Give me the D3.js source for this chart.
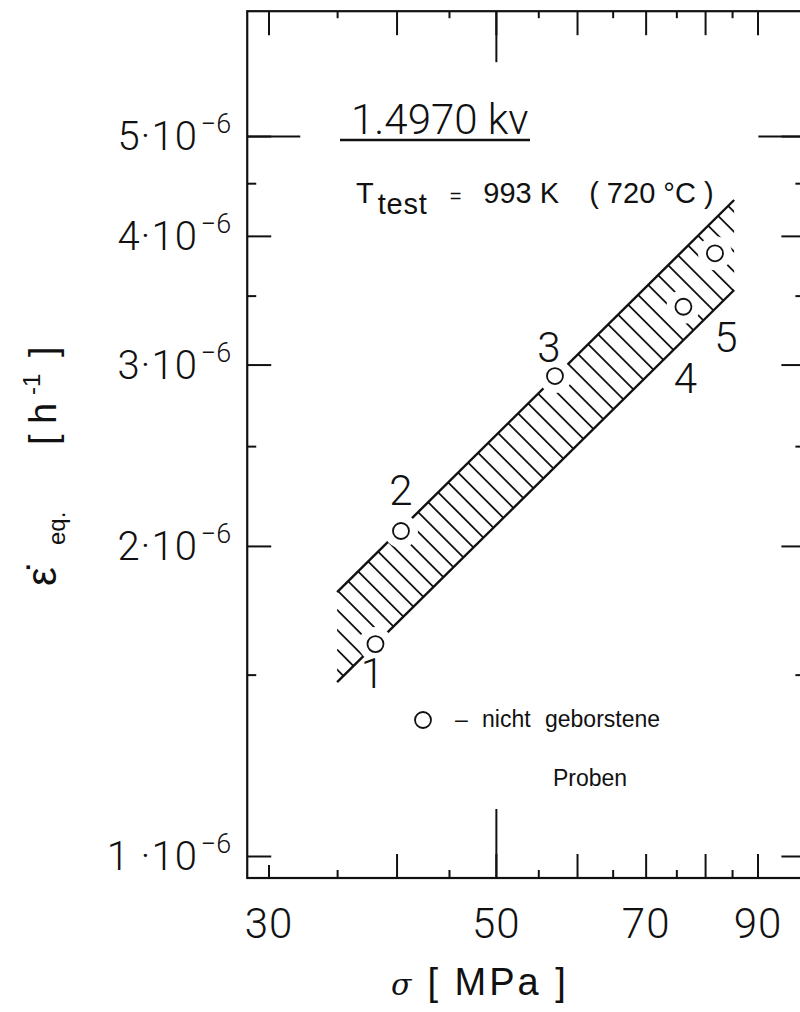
<!DOCTYPE html>
<html>
<head>
<meta charset="utf-8">
<script src="https://cdn.jsdelivr.net/npm/d3@7"></script>
<style>
    body { margin: 0; background: #fff; }
    svg { display: block; }
</style>
</head>
<body>
<div id="chart"></div>
<script>
// ---- data ----
const xTicksMajor = [40, 50, 60, 70, 80, 90];
const xTicksMinor = [35, 45, 55, 65, 75, 85];
const xTickFirst = [30];
const xTickLabels = [30, 50, 70, 90];
const xTickLong = [50];

const yTicksMajor = [1e-6, 2e-6, 3e-6, 4e-6, 5e-6];
const yTicksMinor = [1.5e-6, 2.5e-6, 3.5e-6, 4.5e-6];
const yTickLong = [5e-6];
const yTickMantissa = ["1 ·10", "2·10", "3·10", "4·10", "5·10"];
const yTickExponent = "\u22126";

// frame extent (MPa, 1/h)
const xFrame = [28.6, 100];
const yFrame = [0.952e-6, 6.61e-6];

// specimens (not ruptured)
const specimen = ["1", "2", "3", "4", "5"];
const sigma = [38.15, 40.4, 57.1, 76.2, 81.8];
const epsRate = [1.606e-6, 2.068e-6, 2.924e-6, 3.414e-6, 3.847e-6];

// scatter band, straight in log-log
const bandSigma = [35.0, 85.4];
const bandUpper = [1.804e-6, 4.334e-6];
const bandLower = [1.475e-6, 3.544e-6];

// ---- layout ----
const W = 800, H = 1012;
const ink = "#111";
const fontDigits = "Roboto, 'DejaVu Sans Condensed', sans-serif";
const fontText = "'Liberation Sans', 'DejaVu Sans', sans-serif";
const labelOffset = [[-3, 44], [0, -26], [-6, -14], [2, 86], [11, 99]];

const svg = d3.select("#chart").append("svg")
    .attr("width", W)
    .attr("height", H);

const x = d3.scaleLog().domain([30, 90]).range([268.5, 757.5]);
const y = d3.scaleLog().domain([1e-6, 1e-5]).range([856, -174]);

const fLeft = x(xFrame[0]), fRight = x(xFrame[1]);
const fTop = y(yFrame[1]), fBottom = y(yFrame[0]);

// frame
svg.append("rect")
    .attr("x", fLeft).attr("y", fTop)
    .attr("width", fRight - fLeft).attr("height", fBottom - fTop)
    .attr("fill", "none")
    .attr("stroke", ink)
    .attr("stroke-width", 2.2);

// inward ticks on all four sides
function tickRow(axis, transform, values, len) {
    svg.append("g")
        .attr("transform", transform)
        .attr("color", ink)
        .call(axis.tickValues(values).tickSizeInner(-len).tickSizeOuter(0).tickFormat(""))
        .call(g => g.select(".domain").remove())
        .call(g => g.selectAll("line").attr("stroke-width", 2));
}

tickRow(d3.axisBottom(x), `translate(0,${fBottom})`, xTicksMajor, 24);
tickRow(d3.axisBottom(x), `translate(0,${fBottom})`, xTickFirst, 13);
tickRow(d3.axisBottom(x), `translate(0,${fBottom})`, xTicksMinor, 8);
tickRow(d3.axisBottom(x), `translate(0,${fBottom})`, xTickLong, 69);
tickRow(d3.axisTop(x), `translate(0,${fTop})`, xTicksMajor.concat(xTickFirst), 24);
tickRow(d3.axisTop(x), `translate(0,${fTop})`, xTicksMinor, 7);
tickRow(d3.axisTop(x), `translate(0,${fTop})`, xTickLong, 51);
tickRow(d3.axisLeft(y), `translate(${fLeft},0)`, yTicksMajor, 24);
tickRow(d3.axisLeft(y), `translate(${fLeft},0)`, yTicksMinor, 9);
tickRow(d3.axisLeft(y), `translate(${fLeft},0)`, yTickLong, 53);
tickRow(d3.axisRight(y), `translate(${fRight},0)`, yTicksMajor, 23);
tickRow(d3.axisRight(y), `translate(${fRight},0)`, yTicksMinor, 9);
tickRow(d3.axisRight(y), `translate(${fRight},0)`, yTickLong, 46);

// x tick labels
svg.append("g")
    .attr("transform", `translate(0,${fBottom})`)
    .call(d3.axisBottom(x).tickValues(xTickLabels).tickSize(0).tickPadding(30).tickFormat(d3.format("d")))
    .call(g => g.select(".domain").remove())
    .call(g => g.selectAll("text")
        .attr("fill", ink)
        .attr("font-family", fontDigits)
        .attr("font-weight", 300)
        .attr("font-size", 42)
        .attr("letter-spacing", 1));

// y tick labels  m·10^-6
svg.append("g")
    .attr("transform", `translate(${fLeft},0)`)
    .call(d3.axisLeft(y).tickValues(yTicksMajor).tickSize(0).tickPadding(16).tickFormat(""))
    .call(g => g.select(".domain").remove())
    .call(g => g.selectAll("text")
        .attr("fill", ink)
        .attr("font-family", fontDigits)
        .attr("font-weight", 300)
        .attr("font-size", 40)
        .attr("dy", "0.34em")
        .each(function(d, i) {
            const t = d3.select(this);
            t.append("tspan").attr("letter-spacing", 1).text(yTickMantissa[i]);
            t.append("tspan")
                .attr("font-size", 27)
                .attr("dy", "-0.62em")
                .attr("dx", 3)
                .text(yTickExponent);
        }));

// ---- scatter band with hatching ----
const bandPts = [
    [x(bandSigma[0]), y(bandUpper[0])],
    [x(bandSigma[1]), y(bandUpper[1])],
    [x(bandSigma[1]), y(bandLower[1])],
    [x(bandSigma[0]), y(bandLower[0])]
];

const defs = svg.append("defs");
defs.append("clipPath").attr("id", "bandClip")
    .append("polygon")
    .attr("points", bandPts.map(p => p.join(",")).join(" "));

// gaps in the drawing round each marker
const mask = defs.append("mask").attr("id", "markerGap")
    .attr("maskUnits", "userSpaceOnUse")
    .attr("x", 0).attr("y", 0).attr("width", W).attr("height", H);
mask.append("rect").attr("width", W).attr("height", H).attr("fill", "white");
mask.selectAll("circle")
    .data(sigma)
    .join("circle")
    .attr("cx", d => x(d))
    .attr("cy", (d, i) => y(epsRate[i]))
    .attr("r", 17)
    .attr("fill", "black");

const band = svg.append("g").attr("mask", "url(#markerGap)");

// hatch lines at 45 deg, starting from points of the upper line
const x0 = bandPts[0][0], x1 = bandPts[1][0];
const upperAt = px => bandPts[0][1] + (px - x0) * (bandPts[1][1] - bandPts[0][1]) / (x1 - x0);
const hatchX = d3.range(x0 + 1 - 100, x1, 10);

band.append("g")
    .attr("clip-path", "url(#bandClip)")
    .selectAll("line")
    .data(hatchX)
    .join("line")
    .attr("x1", d => d)
    .attr("y1", d => upperAt(d))
    .attr("x2", d => d + 110)
    .attr("y2", d => upperAt(d) + 110)
    .attr("stroke", ink)
    .attr("stroke-width", 1.8);

const bandLine = d3.line().x(d => x(d[0])).y(d => y(d[1]));
[bandUpper, bandLower].forEach(edge => {
    band.append("path")
        .attr("d", bandLine(bandSigma.map((s, i) => [s, edge[i]])))
        .attr("fill", "none")
        .attr("stroke", ink)
        .attr("stroke-width", 2.4);
});

// markers and numbers
svg.append("g")
    .selectAll("circle")
    .data(sigma)
    .join("circle")
    .attr("cx", d => x(d))
    .attr("cy", (d, i) => y(epsRate[i]))
    .attr("r", 8)
    .attr("fill", "none")
    .attr("stroke", ink)
    .attr("stroke-width", 1.8);

svg.append("g")
    .selectAll("text")
    .data(specimen)
    .join("text")
    .attr("x", (d, i) => x(sigma[i]) + labelOffset[i][0])
    .attr("y", (d, i) => y(epsRate[i]) + labelOffset[i][1])
    .attr("text-anchor", "middle")
    .attr("font-family", fontDigits)
    .attr("font-weight", 300)
    .attr("font-size", 42)
    .attr("fill", ink)
    .text(d => d);

// ---- annotations ----
svg.append("text")
    .attr("x", 351).attr("y", 134)
    .attr("font-family", fontDigits)
    .attr("font-weight", 300)
    .attr("font-size", 42)
    .attr("fill", ink)
    .text("1.4970 kv");
svg.append("line")
    .attr("x1", 340).attr("x2", 530)
    .attr("y1", 140).attr("y2", 140)
    .attr("stroke", ink)
    .attr("stroke-width", 2.4);

const tTest = svg.append("text")
    .attr("x", 356).attr("y", 203)
    .attr("font-family", fontText)
    .attr("font-size", 29)
    .attr("fill", ink);
tTest.append("tspan").text("T");
tTest.append("tspan").attr("dx", 4).attr("dy", 11).attr("letter-spacing", 0.8).text("test");
tTest.append("tspan").attr("dx", 22).attr("dy", -11).attr("font-size", 20).text("=");
tTest.append("tspan").attr("dx", 22).text("993 K");
tTest.append("tspan").attr("dx", 30).text("( 720 °C )");

// legend
svg.append("circle")
    .attr("cx", 423).attr("cy", 720).attr("r", 8)
    .attr("fill", "none").attr("stroke", ink).attr("stroke-width", 1.8);
svg.append("text")
    .attr("y", 727)
    .attr("font-family", fontText)
    .attr("font-size", 23)
    .attr("fill", ink)
    .call(t => {
        t.append("tspan").attr("x", 455).text("–");
        t.append("tspan").attr("x", 482).text("nicht");
        t.append("tspan").attr("x", 545).text("geborstene");
    });
svg.append("text")
    .attr("x", 553).attr("y", 786)
    .attr("font-family", fontText)
    .attr("font-size", 23)
    .attr("fill", ink)
    .text("Proben");

// axis titles
svg.append("text")
    .attr("x", 391).attr("y", 995)
    .attr("font-family", fontText)
    .attr("font-size", 38)
    .attr("fill", ink)
    .call(t => {
        t.append("tspan")
            .attr("font-family", "'DejaVu Serif', serif")
            .attr("font-style", "italic")
            .attr("font-size", 30)
            .text("σ");
        t.append("tspan").attr("dx", 16).attr("letter-spacing", 3).text("[ MPa ]");
    });

// rotated y title, pieces placed along the rotated baseline
svg.append("text")
    .attr("transform", "translate(56,465) rotate(-90)")
    .attr("font-family", fontText)
    .attr("font-size", 38)
    .attr("fill", ink)
    .call(t => {
        t.append("tspan").attr("x", -121).attr("font-size", 42).text("ε\u0307");
        t.append("tspan").attr("x", -80).attr("dy", 9).attr("font-size", 24).text("eq.");
        t.append("tspan").attr("x", 20).attr("dy", -9).text("[");
        t.append("tspan").attr("x", 41).text("h");
        t.append("tspan").attr("x", 70).attr("dy", -16).attr("font-size", 24).text("-1");
        t.append("tspan").attr("x", 108).attr("dy", 16).text("]");
    });
</script>
</body>
</html>
